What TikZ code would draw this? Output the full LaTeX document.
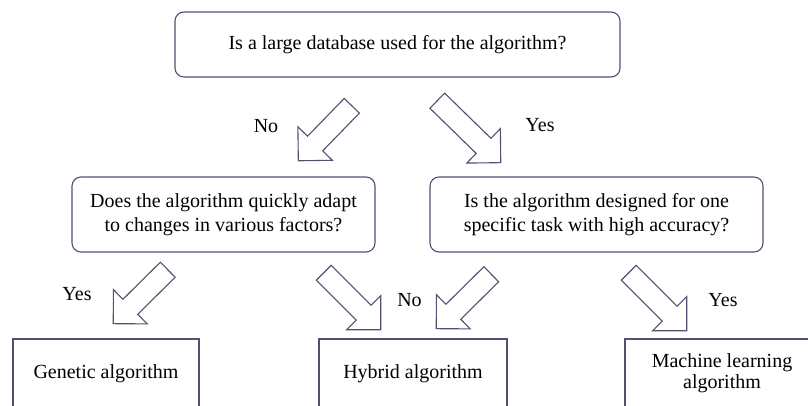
\documentclass[tikz,border=0pt]{standalone}
\usepackage{fontspec}
\setmainfont{Liberation Serif}
\usetikzlibrary{shapes.arrows}

\definecolor{edge}{RGB}{78,82,112}

\tikzset{
  txt/.style={font=\fontsize{20}{24}\selectfont, text=black},
  question/.style={txt, draw=edge, line width=1.1pt, rounded corners=9pt,
    align=center, inner sep=0pt, outer sep=0pt},
  answer/.style={txt, draw=edge, line width=1.1pt, align=center,
    inner sep=0pt, outer sep=0pt, minimum height=69pt},
  choice/.style={txt, anchor=base, inner sep=0pt},
  flow/.style={single arrow, draw=edge, line width=1.1pt, fill=white,
    inner xsep=0pt, inner ysep=10pt, single arrow head extend=13.5pt,
    single arrow head indent=0pt, outer sep=0pt}
}

\begin{document}
\begin{tikzpicture}[x=1pt, y=-1pt]
  \clip (0,0) rectangle (808,406);
  \useasboundingbox (0,0) rectangle (808,406);

  % decision boxes
  \node[question, minimum width=445pt, minimum height=65pt] (q1) at (397.5,44.5)
    {Is a large database used for the algorithm?};
  \node[question, minimum width=303pt, minimum height=75pt] (q2) at (223.5,214.5)
    {Does the algorithm quickly adapt\\to changes in various factors?};
  \node[question, minimum width=333pt, minimum height=75pt] (q3) at (596.5,214.5)
    {Is the algorithm designed for one\\specific task with high accuracy?};

  % outcome boxes
  \node[answer, minimum width=186pt] (r1) at (106,373.5) {Genetic algorithm};
  \node[answer, minimum width=188pt] (r2) at (413,373.5) {Hybrid algorithm};
  \node[answer, minimum width=194pt, font=\fontsize{20}{21}\selectfont] (r3) at (722,373.5)
    {Machine learning\\algorithm};

  % hollow block arrows between the levels
  \node[flow, minimum height=76.7pt, rotate=-134.2] (a1) at (328.75,129.5) {};
  \node[flow, minimum height=88.7pt, rotate=-44.3] (a2) at (465.25,128) {};
  \node[flow, minimum height=76.7pt, rotate=-135.3] (a3) at (144.25,293) {};
  \node[flow, minimum height=80.6pt, rotate=-45] (a4) at (348.5,297.5) {};
  \node[flow, minimum height=77.4pt, rotate=-135.3] (a5) at (467.5,297.75) {};
  \node[flow, minimum height=82pt, rotate=-45] (a6) at (654,298) {};

  % branch labels
  \node[choice] (l1) at (266,132.3) {No};
  \node[choice] (l2) at (540,132) {Yes};
  \node[choice] (l3) at (77,300.7) {Yes};
  \node[choice] (l4) at (409.5,306) {No};
  \node[choice] (l5) at (723,306) {Yes};
\end{tikzpicture}
\end{document}
